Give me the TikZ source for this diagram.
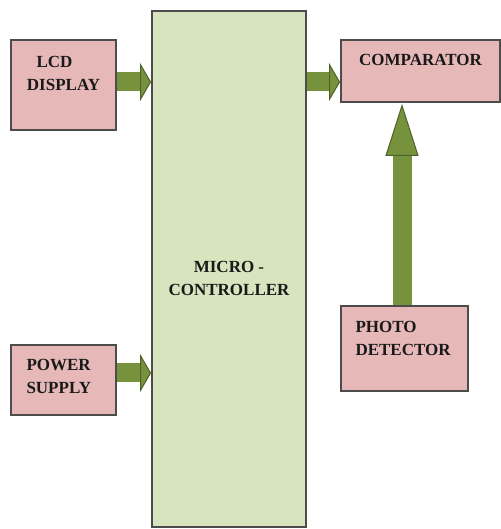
\documentclass[tikz,border=0pt]{standalone}
\usepackage{fontspec}
\setmainfont{Liberation Serif}
\usetikzlibrary{arrows.meta, positioning, calc}
\definecolor{boxpink}{HTML}{E6B9B8}
\definecolor{boxgreen}{HTML}{D7E4BD}
\definecolor{arrowgreen}{HTML}{76923C}
\definecolor{arrowedge}{HTML}{4F6228}

\begin{document}
\begin{tikzpicture}[
    x=0.5pt, y=0.5pt,
    every node/.style={font=\bfseries\fontsize{8.5}{11.5}\selectfont},
    block/.style={
        rectangle,
        draw=black!70,
        line width=0.9pt,
        inner sep=0pt
    },
    lbl/.style={
        inner sep=0pt,
        text=black!90
    },
    sidearrow/.style={
        line width=9.5pt,
        draw=arrowgreen,
        -{Triangle[length=5.5pt, width=19pt, line width=0.5pt, color=arrowedge, fill=arrowgreen]}
    },
    uparrow/.style={
        line width=9.5pt,
        draw=arrowgreen,
        shorten >=0.5pt,
        -{Triangle[length=26pt, width=16.5pt, line width=0.5pt, color=arrowedge, fill=arrowgreen]}
    }
]
\useasboundingbox (0,0) rectangle (500,529);
\node[block, fill=boxgreen, minimum width=77pt, minimum height=258pt,
    label={[lbl, align=center, anchor=north, yshift=-125.5pt]north:{MICRO -\\CONTROLLER}}] (micro) at (229,260) {};
\node[block, fill=boxpink, minimum width=52.5pt, minimum height=45pt,
    label={[lbl, align=center, anchor=north, yshift=-8.5pt]north:{LCD\hspace*{9pt}\\DISPLAY}}] (lcd) at (63.5,444) {};
\node[block, fill=boxpink, minimum width=52.5pt, minimum height=35pt,
    label={[lbl, align=left, anchor=north west, xshift=8pt, yshift=-7.5pt]north west:{POWER\\SUPPLY}}] (power) at (63.5,149) {};
\node[block, fill=boxpink, minimum width=79.5pt, minimum height=31pt,
    label={[lbl, align=center, anchor=north, yshift=-7.5pt]north:{COMPARATOR}}] (comp) at (420.5,458) {};
\node[block, fill=boxpink, minimum width=63.5pt, minimum height=42.5pt,
    label={[lbl, align=left, anchor=north west, xshift=7.5pt, yshift=-8pt]north west:{PHOTO\\DETECTOR}}] (photo) at (404.5,180.5) {};
\draw[sidearrow] ([yshift=1.5pt]lcd.east) -- ([yshift=1.5pt]lcd.east -| micro.west);
\draw[sidearrow] ([yshift=3.5pt]power.east) -- ([yshift=3.5pt]power.east -| micro.west);
\draw[sidearrow] ([yshift=-5.5pt]comp.west -| micro.east) -- ([yshift=-5.5pt]comp.west);
\draw[uparrow] ([xshift=-1.25pt]photo.north) -- ([xshift=-1.25pt]photo.north |- comp.south);
\end{tikzpicture}
\end{document}
